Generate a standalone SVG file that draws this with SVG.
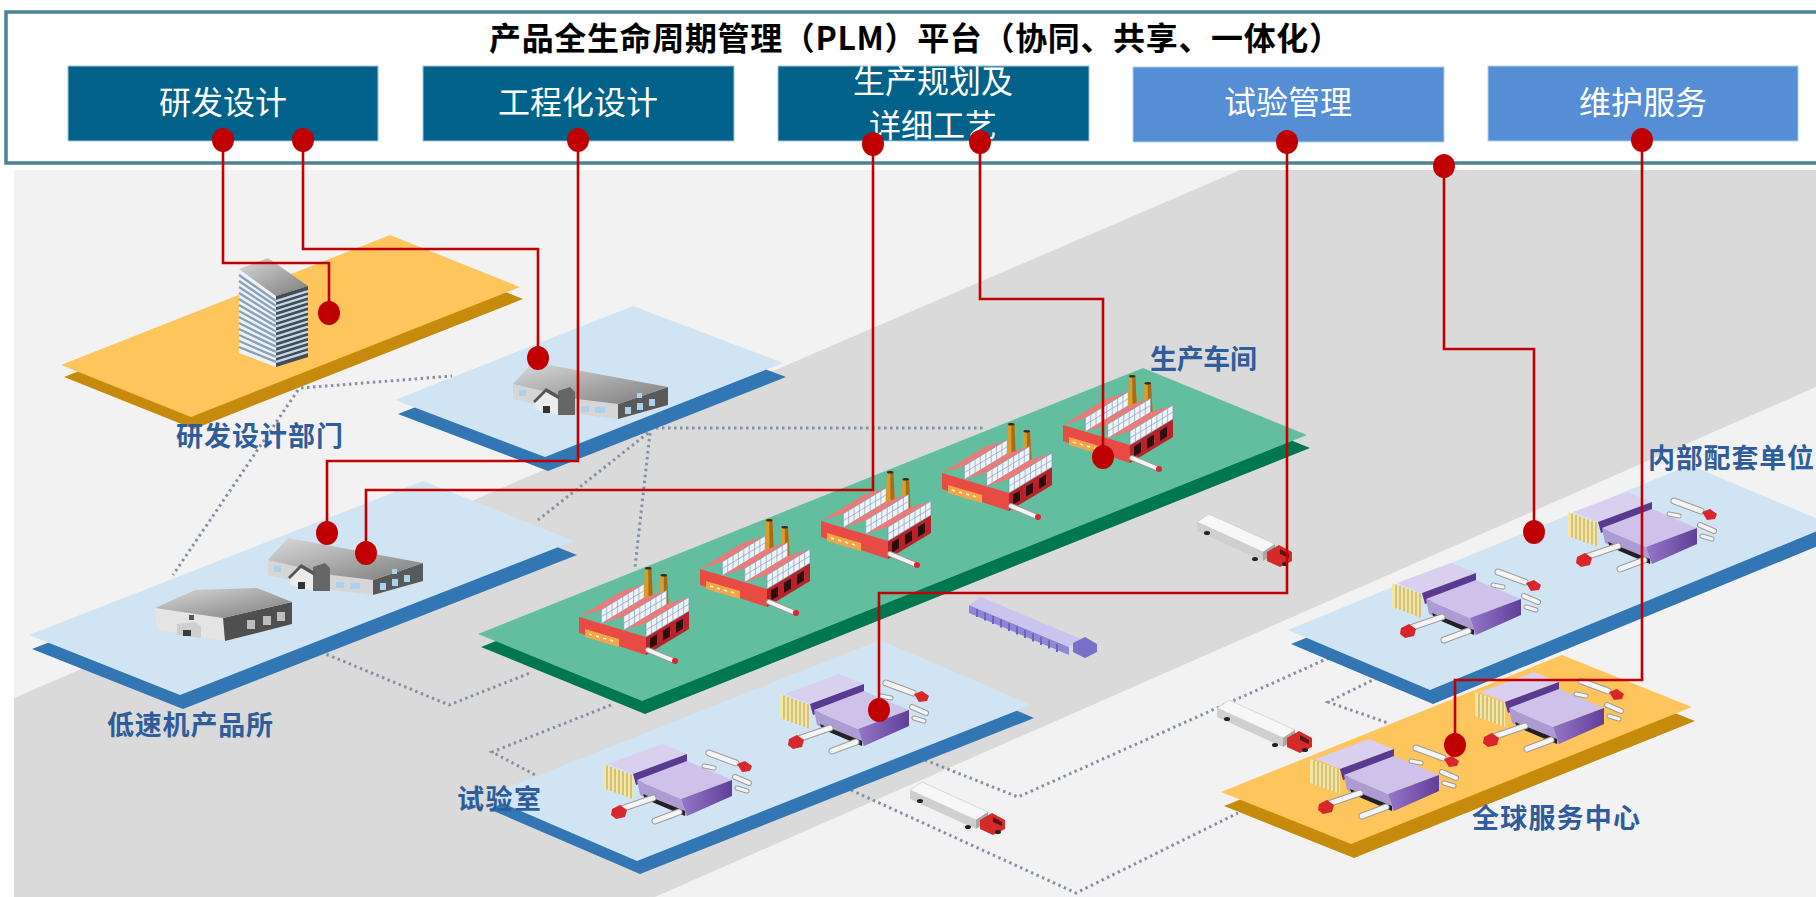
<svg xmlns="http://www.w3.org/2000/svg" width="1816" height="897" viewBox="0 0 1816 897">
<style>
  .title{font-family:"Noto Sans CJK SC","Noto Sans",sans-serif;font-size:32px;font-weight:700;fill:#000;}
  .btn{font-family:"Noto Sans CJK SC","Noto Sans",sans-serif;font-size:32px;fill:#fff;text-anchor:middle;}
  .lbl{font-family:"Noto Sans CJK SC",sans-serif;font-size:27px;font-weight:700;fill:#2f5c9a;}
  .dark{fill:#02628a;stroke:#a3c3d8;stroke-width:1;}
  .light{fill:#558ed5;stroke:#b3cdea;stroke-width:1;}
  .link{fill:none;stroke:#c00000;stroke-width:2.6;}
  .dot{fill:#c00000;}
  .route{fill:none;stroke:#8490a3;stroke-width:3;stroke-dasharray:2.5 3.5;}
  .bl-top{fill:#d0e4f3;} .bl-side{fill:#3276b4;}
  .or-top{fill:#fdc55b;} .or-side{fill:#c68a0c;}
  .gr-top{fill:#62be9f;} .gr-side{fill:#00784f;}
</style>
<defs>
  <linearGradient id="roofGrad" x1="0" y1="0" x2="1" y2="1">
    <stop offset="0" stop-color="#dadada"/><stop offset="1" stop-color="#7c7c7c"/>
  </linearGradient>
  <linearGradient id="purpleFace" x1="0" y1="0" x2="1" y2="0">
    <stop offset="0" stop-color="#9577c8"/><stop offset="1" stop-color="#5f3f98"/>
  </linearGradient>

  <!-- glazed sawtooth strip of a factory roof -->
  <g id="band">
    <polygon points="0,0 43,-26 43,-40 0,-14" fill="#eef3fa" stroke="#7f94ad" stroke-width="0.7"/>
    <path d="M5.4,-3.25v-14M10.75,-6.5v-14M16.1,-9.75v-14M21.5,-13v-14M26.9,-16.25v-14M32.25,-19.5v-14M37.6,-22.75v-14M0,-7L43,-33" stroke="#8aa0b8" stroke-width="0.7" fill="none"/>
  </g>

  <!-- factory with chimneys -->
  <g id="factory">
    <polygon points="0,50 67,70 67,88 0,66" fill="#e84a44"/>
    <polygon points="67,70 110,44 110,62 67,88" fill="#b8222a"/>
    <polygon points="0,50 43,24 65.3,16.7 22.3,42.7" fill="#ee7a78"/>
    <use href="#band" x="22.3" y="56.7"/>
    <polygon points="64.5,38 66,1 72.5,1 74,38" fill="#dc9c2c"/>
    <polygon points="69.3,1 72.5,1 74,38 69.5,38" fill="#a96c16"/>
    <ellipse cx="69.2" cy="1.2" rx="3.3" ry="1.3" fill="#3a2a10"/>
    <polygon points="80,44 81.5,8 88,8 90,44" fill="#dc9c2c"/>
    <polygon points="84.8,8 88,8 90,44 85,44" fill="#a96c16"/>
    <ellipse cx="84.7" cy="8.2" rx="3.3" ry="1.3" fill="#3a2a10"/>
    <polygon points="22.3,56.7 65.3,30.7 87.7,23.3 44.7,49.3" fill="#ee7a78"/>
    <use href="#band" x="44.7" y="63.3"/>
    <polygon points="44.7,63.3 87.7,37.3 110,30 67,56" fill="#ee7a78"/>
    <use href="#band" x="67" y="70"/>
    <polygon points="71,71.6 78,67.3 78,77.3 71,81.6" fill="#2a0d0d"/>
    <polygon points="84,63.7 91,59.5 91,69.5 84,73.7" fill="#2a0d0d"/>
    <polygon points="97,55.9 104,51.6 104,61.6 97,65.9" fill="#2a0d0d"/>
    <polygon points="6,62 40,72 40,80 6,70" fill="#f3a548"/>
    <path d="M10,67l3,1M17,69l3,1M24,71l3,1M31,73l3,1" stroke="#fff3d8" stroke-width="1.4"/>
    <line x1="69" y1="83" x2="93" y2="93" stroke="#9a9a9a" stroke-width="6" stroke-linecap="round"/>
    <line x1="69" y1="83" x2="93" y2="93" stroke="#f4f4f4" stroke-width="4" stroke-linecap="round"/>
    <circle cx="96" cy="94" r="3" fill="#d9262b"/>
  </g>

  <!-- long house with front wing -->
  <g id="houseA">
    <polygon points="0,22 64,37 105,42 105,57 64,52 0,37" fill="#d6d6d6"/>
    <polygon points="105,42 155,25 155,43 105,57" fill="#595959"/>
    <polygon points="0,22 20,0 155,25 105,42 64,37" fill="url(#roofGrad)"/>
    <polygon points="45,29 57,25 62,30 62,53 45,53" fill="#666"/>
    <polygon points="22,38 33,28 45,35 45,53 22,47" fill="#ececec"/>
    <polygon points="20,39 33,26 47,34 45,37 33,30 22,41" fill="#555"/>
    <rect x="30" y="44" width="7" height="7" fill="#333"/>
    <g fill="#a9d2ef">
      <rect x="6" y="28" width="7" height="6"/>
      <rect x="68" y="44" width="8" height="6"/>
      <rect x="82" y="45" width="10" height="6"/>
      <rect x="112" y="45" width="6" height="7"/>
      <rect x="124" y="41" width="6" height="7"/>
      <rect x="136" y="37" width="6" height="7"/>
      <rect x="124" y="31" width="5" height="5"/>
    </g>
  </g>

  <!-- barn style house -->
  <g id="houseB">
    <polygon points="0,20 68,30 70,53 2,42" fill="#e4e4e4"/>
    <polygon points="68,30 137,14 137,36 70,53" fill="#4f4f4f"/>
    <polygon points="0,20 40,2 102,0 137,14 68,30" fill="url(#roofGrad)"/>
    <polygon points="22,36 40,34 46,38 46,50 22,47" fill="#cfcfcf"/>
    <rect x="28" y="42" width="8" height="6" fill="#3c3c3c"/>
    <rect x="34" y="27" width="5" height="5" fill="#555"/>
    <g fill="#bdbdbd"><rect x="92" y="32" width="8" height="9"/><rect x="108" y="28" width="8" height="9"/><rect x="122" y="24" width="8" height="9"/></g>
  </g>

  <!-- purple warehouse with trucks at the docks -->
  <g id="warehouse">
    <polygon points="0,17 30,28 30,52 0,41" fill="#f3e7a8"/>
    <path d="M4,18.5v24M8,20v24M12,21.4v24M16,22.9v24M20,24.3v24M24,25.8v24M28,27.3v24" stroke="#c2a95c" stroke-width="1.2"/>
    <polygon points="5,17 59,-3 84,7 30,27" fill="#d9cfee"/>
    <polygon points="30,27 84,7 84,18 33,38" fill="#5a3a90"/>
    <polygon points="34,33 78,52 84,69 37,48" fill="#ad9bd4"/>
    <polygon points="34,33 84,14 129,33 78,52" fill="#cfc2ea"/>
    <polygon points="78,52 129,33 129,49 84,69" fill="url(#purpleFace)"/>
    <polygon points="40,47 82,64 82,69 42,52" fill="#222"/>
    <g stroke-linecap="round">
      <line x1="50" y1="51" x2="18" y2="62" stroke="#9c9c9c" stroke-width="7"/>
      <line x1="50" y1="51" x2="18" y2="62" stroke="#f4f4f4" stroke-width="5"/>
      <line x1="76" y1="65" x2="52" y2="74" stroke="#9c9c9c" stroke-width="7"/>
      <line x1="76" y1="65" x2="52" y2="74" stroke="#f4f4f4" stroke-width="5"/>
      <line x1="106" y1="6" x2="133" y2="16" stroke="#9c9c9c" stroke-width="7"/>
      <line x1="106" y1="6" x2="133" y2="16" stroke="#f4f4f4" stroke-width="5"/>
      <line x1="101" y1="19" x2="111" y2="21" stroke="#9c9c9c" stroke-width="5"/>
      <line x1="101" y1="19" x2="111" y2="21" stroke="#f4f4f4" stroke-width="3"/>
      <line x1="132" y1="30" x2="146" y2="36" stroke="#9c9c9c" stroke-width="6"/>
      <line x1="132" y1="30" x2="146" y2="36" stroke="#f4f4f4" stroke-width="4"/>
      <line x1="134" y1="41" x2="144" y2="44" stroke="#9c9c9c" stroke-width="5"/>
      <line x1="134" y1="41" x2="144" y2="44" stroke="#f4f4f4" stroke-width="3"/>
    </g>
    <polygon points="9,62 17,58 24,63 22,70 13,72 8,68" fill="#d9262b"/>
    <polygon points="134,17 142,14 149,19 147,24 139,25" fill="#d9262b"/>
  </g>

  <!-- tractor trailer -->
  <g id="truck">
    <polygon points="2,19 68,49 68,40 2,10" fill="#cfcfcf"/>
    <polygon points="2,10 14,2 80,32 68,40" fill="#f7f7f7" stroke="#c4c4c4" stroke-width="0.6"/>
    <polygon points="68,40 80,32 80,41 68,49" fill="#a8a8a8"/>
    <polygon points="72,40 84,33 97,40 97,49 85,55 72,49" fill="#d42a2a"/>
    <polygon points="85,37 94,42 94,46 85,42" fill="#5a1414"/>
    <ellipse cx="12" cy="21" rx="3" ry="2" fill="#222"/>
    <ellipse cx="60" cy="47" rx="3" ry="2" fill="#222"/>
    <ellipse cx="90" cy="52" rx="3" ry="2" fill="#222"/>
  </g>

  <!-- ribbed purple container truck -->
  <g id="cargo">
    <polygon points="0,16 100,58 100,50 0,8" fill="#8f86d6"/>
    <path d="M8,12v8M16,15.5v8M24,19v8M32,22.5v8M40,26v8M48,29.5v8M56,33v8M64,36.5v8M72,40v8M80,43.5v8M88,47v8" stroke="#6d63bf" stroke-width="2"/>
    <polygon points="0,8 12,0 112,42 100,50" fill="#cbc4ef"/>
    <polygon points="104,46 116,40 128,47 128,55 116,61 104,55" fill="#7a6fc6"/>
  </g>
</defs>

<rect width="1816" height="897" fill="#fff"/>

<!-- PLM platform header -->
<g id="plm-header">
  <rect x="6" y="12" width="1830" height="151" fill="#fff" stroke="#4a8495" stroke-width="3.5"/>
  <text class="title" x="915" y="50" text-anchor="middle" textLength="852" lengthAdjust="spacing">产品全生命周期管理（PLM）平台（协同、共享、一体化）</text>
</g>
<g id="m-rd">
  <rect class="dark" x="68" y="66" width="310" height="75"/>
  <text class="btn" x="223" y="114">研发设计</text>
</g>
<g id="m-eng">
  <rect class="dark" x="423" y="66" width="311" height="75"/>
  <text class="btn" x="578" y="114">工程化设计</text>
</g>
<g id="m-plan">
  <rect class="dark" x="778" y="66" width="311" height="75"/>
  <text class="btn" x="933" y="93">生产规划及</text>
  <text class="btn" x="933" y="137">详细工艺</text>
</g>
<g id="m-test">
  <rect class="light" x="1133" y="67" width="311" height="75"/>
  <text class="btn" x="1288" y="114">试验管理</text>
</g>
<g id="m-svc">
  <rect class="light" x="1488" y="66" width="310" height="75"/>
  <text class="btn" x="1643" y="114">维护服务</text>
</g>

<!-- ground -->
<g id="ground">
  <rect x="14" y="170" width="1802" height="727" fill="#f2f2f2"/>
  <polygon points="14,698 1240,170 1816,170 1816,387 655,897 14,897" fill="#dadada"/>
</g>

<!-- logistics routes -->
<g id="routes">
  <polyline class="route" points="301,388 452,376"/>
  <polyline class="route" points="298,390 173,575"/>
  <polyline class="route" points="650,428 985,428"/>
  <polyline class="route" points="648,433 538,520"/>
  <polyline class="route" points="650,433 635,567"/>
  <polyline class="route" points="321,652 449,705 530,673"/>
  <polyline class="route" points="611,705 492,752 541,778"/>
  <polyline class="route" points="851,790 1076,893 1238,813"/>
  <polyline class="route" points="925,760 1018,797 1331,657"/>
  <polyline class="route" points="1377,678 1328,702 1388,723"/>
</g>

<!-- sites -->
<g id="site-rd">
  <polygon class="or-side" points="64,377 393,247 523,299 194,429"/>
  <polygon class="or-top" points="61,365 390,235 520,287 191,417"/>
  <g id="tower">
    <polygon points="239,269 276,296 276,367 239,353" fill="#eef2f6"/>
    <path d="M239,275L276,301.1M239,281L276,306.1M239,287L276,311.2M239,293L276,316.3M239,299L276,321.4M239,305L276,326.4M239,311L276,331.5M239,317L276,336.6M239,323L276,341.6M239,329L276,346.7M239,335L276,351.8M239,341L276,356.9M239,347L276,361.9" stroke="#89a2ba" stroke-width="2.4"/>
    <polygon points="276,296 308,286 308,357 276,367" fill="#3f4d5c"/>
    <path d="M276,301.1L308,291.1M276,306.1L308,296.1M276,311.2L308,301.2M276,316.3L308,306.3M276,321.4L308,311.4M276,326.4L308,316.4M276,331.5L308,321.5M276,336.6L308,326.6M276,341.6L308,331.6M276,346.7L308,336.7M276,351.8L308,341.8M276,356.9L308,346.9M276,361.9L308,351.9" stroke="#c9d6e2" stroke-width="2.2"/>
    <polygon points="239,269 268,258 308,286 276,296" fill="url(#roofGrad)"/>
  </g>
</g>
<g id="site-eng">
  <polygon class="bl-side" points="398,414 636,320 786,377 548,471"/>
  <polygon class="bl-top" points="395,400 633,306 783,363 545,457"/>
  <use href="#houseA" x="513" y="362"/>
</g>
<g id="site-low">
  <polygon class="bl-side" points="32,649 426,495 577,555 183,709"/>
  <polygon class="bl-top" points="29,635 423,481 574,541 180,695"/>
  <use href="#houseA" x="268" y="538"/>
  <use href="#houseB" x="155" y="588"/>
</g>
<g id="site-plant">
  <polygon class="gr-side" points="481,647 1146,381 1310,448 645,714"/>
  <polygon class="gr-top" points="478,634 1143,368 1307,435 642,701"/>
  <use href="#factory" x="1063" y="375"/>
  <use href="#factory" x="942" y="423"/>
  <use href="#factory" x="821" y="471"/>
  <use href="#factory" x="700" y="519"/>
  <use href="#factory" x="579" y="567"/>
</g>
<g id="site-lab">
  <polygon class="bl-side" points="489,809 883,653 1034,718 640,874"/>
  <polygon class="bl-top" points="486,796 880,640 1031,705 637,861"/>
  <use href="#warehouse" x="603" y="747"/>
  <use href="#warehouse" x="780" y="677"/>
</g>
<g id="site-supply">
  <polygon class="bl-side" points="1291,644 1693,479 1835,539 1433,704"/>
  <polygon class="bl-top" points="1288,630 1690,465 1832,525 1430,690"/>
  <use href="#warehouse" x="1392" y="566"/>
  <use href="#warehouse" x="1568" y="495"/>
</g>
<g id="site-global">
  <polygon class="or-side" points="1224,806 1565,669 1695,721 1354,858"/>
  <polygon class="or-top" points="1221,792 1562,655 1692,707 1351,844"/>
  <use href="#warehouse" x="1475" y="675"/>
  <use href="#warehouse" x="1310" y="742"/>
</g>

<!-- vehicles on the roads -->
<g id="vehicles">
  <use href="#truck" x="1195" y="512"/>
  <use href="#truck" x="1215" y="698"/>
  <use href="#truck" x="908" y="780"/>
  <use href="#cargo" x="969" y="597"/>
</g>

<!-- site names -->
<g id="labels">
  <text class="lbl" x="176" y="446" textLength="167" lengthAdjust="spacing">研发设计部门</text>
  <text class="lbl" x="107" y="735" textLength="166" lengthAdjust="spacing">低速机产品所</text>
  <text class="lbl" x="1150" y="369" textLength="107" lengthAdjust="spacing">生产车间</text>
  <text class="lbl" x="1648" y="468" textLength="166" lengthAdjust="spacing">内部配套单位</text>
  <text class="lbl" x="457" y="809" textLength="84" lengthAdjust="spacing">试验室</text>
  <text class="lbl" x="1472" y="828" textLength="168" lengthAdjust="spacing">全球服务中心</text>
</g>

<!-- PLM module links to sites -->
<g id="connectors">
  <path class="link" d="M223,140V263H329V313"/>
  <path class="link" d="M303,140V249H538V358"/>
  <path class="link" d="M578,140V461H327V533"/>
  <path class="link" d="M873,144V490H366V553"/>
  <path class="link" d="M980,142V299H1103V457"/>
  <path class="link" d="M1287,142V593H879V710"/>
  <path class="link" d="M1444,167V349H1534V532"/>
  <path class="link" d="M1642,140V680H1455V745"/>
  <g class="dot">
    <ellipse cx="223" cy="140" rx="11" ry="12"/>
    <ellipse cx="303" cy="140" rx="11" ry="12"/>
    <ellipse cx="578" cy="140" rx="11" ry="12"/>
    <ellipse cx="873" cy="144" rx="11" ry="12"/>
    <ellipse cx="980" cy="142" rx="11" ry="12"/>
    <ellipse cx="1287" cy="142" rx="11" ry="12"/>
    <ellipse cx="1444" cy="166" rx="11" ry="12"/>
    <ellipse cx="1642" cy="140" rx="11" ry="12"/>
    <ellipse cx="329" cy="313" rx="11" ry="12"/>
    <ellipse cx="538" cy="358" rx="11" ry="12"/>
    <ellipse cx="327" cy="533" rx="11" ry="12"/>
    <ellipse cx="366" cy="553" rx="11" ry="12"/>
    <ellipse cx="1103" cy="457" rx="11" ry="12"/>
    <ellipse cx="879" cy="710" rx="11" ry="12"/>
    <ellipse cx="1534" cy="532" rx="11" ry="12"/>
    <ellipse cx="1455" cy="745" rx="11" ry="12"/>
  </g>
</g>
</svg>
